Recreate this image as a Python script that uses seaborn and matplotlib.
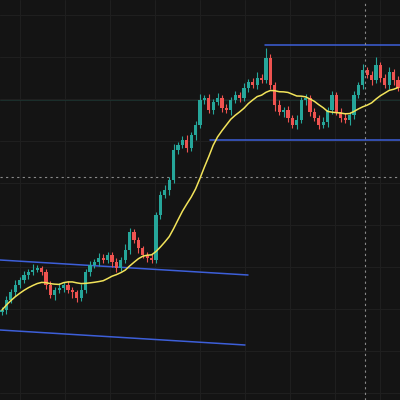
import numpy as np
import pandas as pd
import matplotlib
matplotlib.use("Agg")
import matplotlib.pyplot as plt
import seaborn as sns

# closing prices (chart units, higher = up)
closes_px = [310,300,292,285,280,275,272,270,268,272,285,295,290,288,285,290,292,298,290,272,
             265,262,258,260,255,262,268,260,250,232,240,248,255,258,260,215,195,190,180,150,
             145,140,148,135,125,100,98,110,102,98,108,110,100,95,98,88,82,85,78,80,
             58,85,105,112,110,118,125,120,100,98,112,118,125,122,110,95,112,118,120,115,
             95,85,70,75,80,65,78,85,72,80,88]
closes = [400 - v for v in closes_px]
open0 = 88
upper_wick = [3,4,3,5,3,4,3,6,3,2,3,4,3,5,3,4,3,2,6,3,4,3,5,4,3,3,4,3,6,4,3,3,2,3,4,3,4,5,3,6,
              3,4,5,3,4,6,3,4,3,5,3,4,3,4,3,5,3,4,6,4,10,4,3,5,3,4,3,5,3,4,3,4,3,5,3,4,3,4,5,3,
              4,3,6,3,4,8,3,4,5,3,4]
lower_wick = [3,4,3,4,3,3,4,3,2,3,4,3,5,3,4,3,6,4,3,3,4,3,4,3,3,5,4,3,3,4,3,5,3,4,3,3,4,3,5,3,
              4,3,4,3,5,3,4,3,4,3,4,3,5,3,4,3,4,3,4,3,3,4,6,3,5,4,3,4,3,5,4,3,4,3,5,4,3,4,3,5,
              4,3,4,3,5,3,4,3,4,5,3]

opens = [open0] + closes[:-1]
df = pd.DataFrame({"i": np.arange(len(closes)), "open": opens, "close": closes})
df["high"] = df[["open", "close"]].max(axis=1) + upper_wick
df["low"] = df[["open", "close"]].min(axis=1) - lower_wick
df["ma"] = df["close"].rolling(14, min_periods=1).mean()

sns.set_theme(style="dark")
bg = "#141414"
fig = plt.figure(figsize=(4, 4), dpi=100, facecolor=bg)
ax = fig.add_axes([0, 0, 1, 1], facecolor=bg)

def px2x(p):
    return (p - 2) / 4.4

for gx in range(0, 400, 45):
    ax.axvline(px2x(gx + 20), color="#202020", lw=0.7, zorder=0)
for gy in range(15, 400, 42):
    ax.axhline(400 - gy, color="#202020", lw=0.7, zorder=0)
ax.axhline(400 - 100, color="#1c3430", lw=0.6, zorder=0)

up, dn = "#26a69a", "#ef5350"
for _, r in df.iterrows():
    c = up if r.close >= r.open else dn
    ax.vlines(r.i, r.low, r.high, color=c, lw=0.8, zorder=2)
    ax.bar(r.i, abs(r.close - r.open) or 1, bottom=min(r.open, r.close), width=0.7,
           color=c, linewidth=0, edgecolor="none", zorder=3)

sns.lineplot(data=df, x="i", y="ma", color="#f2e35a", lw=1.1, ax=ax, zorder=4)

blue = "#3d5fd9"
ax.plot([px2x(0), px2x(248)], [400 - 260, 400 - 275], color=blue, lw=1.1, zorder=1)
ax.plot([px2x(0), px2x(245)], [400 - 330, 400 - 345], color=blue, lw=1.1, zorder=1)
ax.plot([px2x(265), px2x(400)], [400 - 45, 400 - 45], color=blue, lw=1.1, zorder=1)
ax.plot([px2x(210), px2x(400)], [400 - 140, 400 - 140], color=blue, lw=1.1, zorder=1)

ax.axhline(400 - 177, color="#8a8a8a", lw=0.8, ls=(0, (2, 3)), zorder=1)
ax.axvline(px2x(365), color="#8a8a8a", lw=0.8, ls=(0, (2, 3)), zorder=1)

ax.set_xlim(px2x(0), px2x(400))
ax.set_ylim(0, 400)
ax.set_xticks([]); ax.set_yticks([])
ax.set_xlabel(""); ax.set_ylabel("")
for s in ax.spines.values():
    s.set_visible(False)
fig.savefig("out.png", dpi=100, facecolor=bg)
